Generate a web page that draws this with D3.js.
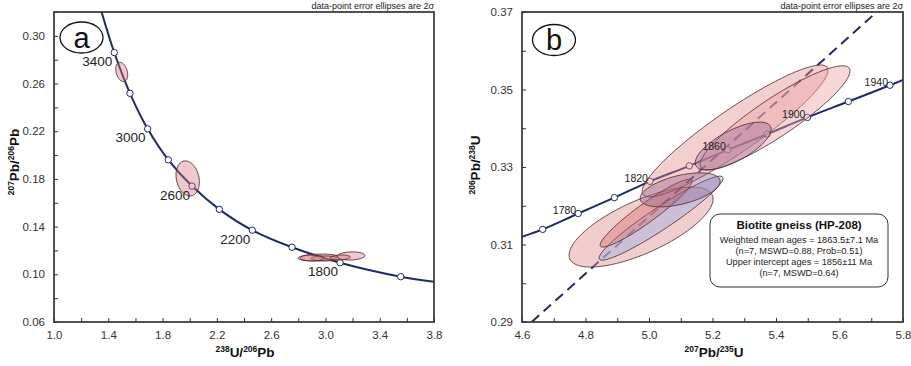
<!DOCTYPE html>
<html>
<head>
<meta charset="utf-8">
<script src="https://cdn.jsdelivr.net/npm/d3@7"></script>
<style>
body{margin:0;background:#fff}
text{font-family:"Liberation Sans",Arial,sans-serif}
</style>
</head>
<body>
<svg id="fig" width="911" height="366"></svg>
<script>
// ---- panel a : Tera-Wasserburg (238U/206Pb vs 207Pb/206Pb)
var twAges = [3400, 3200, 3000, 2800, 2600, 2400, 2200, 2000, 1800, 1600];
var twX = [1.444, 1.560, 1.690, 1.842, 2.017, 2.218, 2.461, 2.754, 3.108, 3.555];
var twY = [0.2860, 0.2518, 0.2220, 0.1960, 0.1740, 0.1545, 0.1370, 0.1227, 0.1097, 0.0980];
var twEnds = [[1.351, 0.3198], [3.80, 0.0938]];
var twLabels = [3400, 3000, 2600, 2200, 1800];
// error ellipses: centre, 2 sigma half widths, correlation
var twCx = [1.499, 1.985, 2.945, 3.188, 2.997, 3.107, 2.901];
var twCy = [0.2697, 0.1804, 0.1141, 0.1154, 0.1133, 0.1141, 0.1137];
var twSx = [0.044, 0.086, 0.147, 0.103, 0.103, 0.074, 0.088];
var twSy = [0.0081, 0.0147, 0.0029, 0.0034, 0.0021, 0.0021, 0.0025];
var twRho = [-0.3, -0.2, 0.2, 0.1, 0.0, 0.2, 0.0];
var twXTicks = [1.0, 1.4, 1.8, 2.2, 2.6, 3.0, 3.4, 3.8];
var twXMinor = [1.2, 1.6, 2.0, 2.4, 2.8, 3.2, 3.6];
var twYTicks = [0.06, 0.10, 0.14, 0.18, 0.22, 0.26, 0.30];
var twYMinor = [0.08, 0.12, 0.16, 0.20, 0.24, 0.28, 0.32];

// ---- panel b : Wetherill concordia (207Pb/235U vs 206Pb/238U)
var wcAges = [1760, 1780, 1800, 1820, 1840, 1860, 1880, 1900, 1920, 1940];
var wcX = [4.665, 4.777, 4.891, 5.003, 5.127, 5.248, 5.372, 5.499, 5.628, 5.759];
var wcY = [0.3139, 0.3180, 0.3221, 0.3263, 0.3303, 0.3344, 0.3385, 0.3428, 0.3469, 0.3511];
var wcEnds = [[4.60, 0.3120], [5.80, 0.3525]];
var wcLabels = [1780, 1820, 1860, 1900, 1940];
var discordia = [[4.6305, 0.29], [5.717, 0.37]];
var wcCx = [4.975, 5.271, 5.397, 5.038, 4.991, 5.265, 5.098];
var wcCy = [0.3145, 0.3393, 0.3427, 0.3168, 0.3181, 0.3354, 0.3241];
var wcSx = [0.2268, 0.2929, 0.2362, 0.1953, 0.1449, 0.1197, 0.1260];
var wcSy = [0.01032, 0.01703, 0.01342, 0.01084, 0.00877, 0.00619, 0.00439];
var wcRho = [0.70, 0.92, 0.90, 0.95, 0.94, 0.70, 0.50];
var wcFill = ["rgba(228,150,150,0.48)", "rgba(228,140,140,0.42)", "rgba(236,165,165,0.45)",
              "rgba(160,178,225,0.48)", "rgba(212,100,100,0.38)", "rgba(150,100,150,0.38)",
              "rgba(140,90,140,0.38)"];
var wcXTicks = [4.6, 4.8, 5.0, 5.2, 5.4, 5.6, 5.8];
var wcXMinor = [4.7, 4.9, 5.1, 5.3, 5.5, 5.7];
var wcYTicks = [0.29, 0.31, 0.33, 0.35, 0.37];
var wcYMinor = [0.30, 0.32, 0.34, 0.36];
var boxLines = ["Weighted mean ages = 1863.5\u00b17.1 Ma", "(n=7, MSWD=0.88, Prob=0.51)",
                "Upper intercept ages = 1856\u00b111 Ma", "(n=7, MSWD=0.64)"];

var navy = "#1f2a66";
var svg = d3.select("#fig");

function ellipsePts(cx, cy, sx, sy, rho) {
  var pts = [];
  var k = Math.sqrt(1 - rho * rho);
  for (var i = 0; i <= 72; i++) {
    var t = i / 72 * 2 * Math.PI;
    pts.push([cx + sx * Math.cos(t), cy + sy * (rho * Math.cos(t) + k * Math.sin(t))]);
  }
  return pts;
}

function frame(g, x, y, xt, xm, yt, ym, id) {
  g.append("defs").append("clipPath").attr("id", id)
    .append("rect").attr("x", x.range()[0]).attr("y", y.range()[1])
    .attr("width", x.range()[1] - x.range()[0]).attr("height", y.range()[0] - y.range()[1]);

  var bottom = y.range()[0], left = x.range()[0];
  g.append("g").attr("transform", "translate(0," + bottom + ")")
    .call(d3.axisBottom(x).tickValues(xt).tickFormat(d3.format(".1f")).tickSize(-4).tickPadding(9));
  g.append("g").attr("transform", "translate(0," + bottom + ")")
    .call(d3.axisBottom(x).tickValues(xm).tickFormat("").tickSize(-4));
  g.append("g").attr("transform", "translate(" + left + ",0)")
    .call(d3.axisLeft(y).tickValues(yt).tickFormat(d3.format(".2f")).tickSize(-4).tickPadding(9));
  g.append("g").attr("transform", "translate(" + left + ",0)")
    .call(d3.axisLeft(y).tickValues(ym).tickFormat("").tickSize(-4));
  g.selectAll(".domain").remove();
  g.selectAll(".tick line").attr("stroke", "#333").attr("stroke-width", 1);
  g.selectAll(".tick text").attr("font-size", 11.5).attr("fill", "#333")
    .attr("font-family", "Liberation Sans, Arial, sans-serif");
}

function addBox(g, x, y) {
  g.append("rect")
    .attr("x", x.range()[0]).attr("y", y.range()[1])
    .attr("width", x.range()[1] - x.range()[0]).attr("height", y.range()[0] - y.range()[1])
    .attr("fill", "none").attr("stroke", "#333").attr("stroke-width", 1.7);
}

function supTitle(g, parts, tx, ty, rot) {
  var t = g.append("text").attr("font-weight", "bold").attr("font-size", 13.5).attr("fill", "#111")
    .attr("text-anchor", "middle")
    .attr("transform", "translate(" + tx + "," + ty + ")" + (rot ? " rotate(-90)" : ""));
  parts.forEach(function(p) {
    if (p[1]) {
      t.append("tspan").attr("font-size", 8.5).attr("baseline-shift", "super").text(p[0]);
    } else {
      t.append("tspan").text(p[0]);
    }
  });
}

function corner(g, cx, cy, letter) {
  g.append("ellipse").attr("cx", cx).attr("cy", cy).attr("rx", 21.5).attr("ry", 15.5)
    .attr("fill", "#fff").attr("stroke", "#111").attr("stroke-width", 1.3);
  g.append("text").attr("x", cx).attr("y", cy + 10).attr("text-anchor", "middle")
    .attr("font-size", 29).attr("fill", "#111").text(letter);
}

function note(g, xr) {
  g.append("text").attr("x", xr).attr("y", 9).attr("text-anchor", "end")
    .attr("font-size", 9).attr("fill", "#222").text("data-point error ellipses are 2\u03c3");
}

// ================= panel a
var xa = d3.scaleLinear().domain([1.0, 3.8]).range([54, 434]);
var ya = d3.scaleLinear().domain([0.06, 0.32]).range([322, 12]);
var ga = svg.append("g");
frame(ga, xa, ya, twXTicks, twXMinor, twYTicks, twYMinor, "clipA");

var lineA = d3.line().x(function(d) { return xa(d[0]); }).y(function(d) { return ya(d[1]); })
  .curve(d3.curveCatmullRom);
var twPts = [twEnds[0]].concat(twX.map(function(v, i) { return [v, twY[i]]; }), [twEnds[1]]);
var plotA = ga.append("g").attr("clip-path", "url(#clipA)");
plotA.append("path").attr("d", lineA(twPts)).attr("fill", "none")
  .attr("stroke", navy).attr("stroke-width", 2);
plotA.selectAll(".mk").data(twAges).enter().append("circle")
  .attr("cx", function(d, i) { return xa(twX[i]); })
  .attr("cy", function(d, i) { return ya(twY[i]); })
  .attr("r", 3.2).attr("fill", "#fff").attr("stroke", navy).attr("stroke-width", 1);

var lineE = d3.line().x(function(d) { return xa(d[0]); }).y(function(d) { return ya(d[1]); });
plotA.selectAll(".ell").data(twCx).enter().append("path")
  .attr("d", function(d, i) { return lineE(ellipsePts(twCx[i], twCy[i], twSx[i], twSy[i], twRho[i])) + "Z"; })
  .attr("fill", "rgba(215,120,130,0.40)").attr("stroke", "#5a2a2a").attr("stroke-width", 0.9);

ga.selectAll(".lab").data(twLabels).enter().append("text")
  .attr("x", function(d) { var i = twAges.indexOf(d); return xa(twX[i]) - 2; })
  .attr("y", function(d) { var i = twAges.indexOf(d); return ya(twY[i]) + 13.5; })
  .attr("text-anchor", "end").attr("font-size", 13.5).attr("fill", "#222")
  .text(function(d) { return d; });

addBox(ga, xa, ya);
corner(ga, 81.5, 37.5, "a");
note(ga, 434);
supTitle(ga, [["238", 1], ["U/", 0], ["206", 1], ["Pb", 0]], 245, 357, false);
supTitle(ga, [["207", 1], ["Pb/", 0], ["206", 1], ["Pb", 0]], 19, 162, true);

// ================= panel b
var xb = d3.scaleLinear().domain([4.6, 5.8]).range([522, 903]);
var yb = d3.scaleLinear().domain([0.29, 0.37]).range([322, 12]);
var gb = svg.append("g");
frame(gb, xb, yb, wcXTicks, wcXMinor, wcYTicks, wcYMinor, "clipB");

var lineB = d3.line().x(function(d) { return xb(d[0]); }).y(function(d) { return yb(d[1]); });
var wcPts = [wcEnds[0]].concat(wcX.map(function(v, i) { return [v, wcY[i]]; }), [wcEnds[1]]);
var plotB = gb.append("g").attr("clip-path", "url(#clipB)");
plotB.append("path").attr("d", lineB.curve(d3.curveCatmullRom)(wcPts)).attr("fill", "none")
  .attr("stroke", navy).attr("stroke-width", 2);
lineB.curve(d3.curveLinear);
plotB.append("path").attr("d", lineB(discordia)).attr("fill", "none")
  .attr("stroke", navy).attr("stroke-width", 2).attr("stroke-dasharray", "10,6");
plotB.selectAll(".mk").data(wcAges).enter().append("circle")
  .attr("cx", function(d, i) { return xb(wcX[i]); })
  .attr("cy", function(d, i) { return yb(wcY[i]); })
  .attr("r", 3.2).attr("fill", "#fff").attr("stroke", navy).attr("stroke-width", 1);

gb.selectAll(".lab").data(wcLabels).enter().append("text")
  .attr("x", function(d) { var i = wcAges.indexOf(d); return xb(wcX[i]) - 2; })
  .attr("y", function(d) { var i = wcAges.indexOf(d); return yb(wcY[i]) + 0.5; })
  .attr("text-anchor", "end").attr("font-size", 10.5).attr("fill", "#222")
  .text(function(d) { return d; });

plotB.selectAll(".ell").data(wcCx).enter().append("path")
  .attr("d", function(d, i) { return lineB(ellipsePts(wcCx[i], wcCy[i], wcSx[i], wcSy[i], wcRho[i])) + "Z"; })
  .attr("fill", function(d, i) { return wcFill[i]; })
  .attr("stroke", "#4a2a2a").attr("stroke-width", 0.8);

// result box
gb.append("rect").attr("x", 710).attr("y", 214).attr("width", 178).attr("height", 73)
  .attr("rx", 10).attr("fill", "#fff").attr("stroke", "#333").attr("stroke-width", 1);
gb.append("text").attr("x", 799).attr("y", 228.5).attr("text-anchor", "middle")
  .attr("font-size", 11.5).attr("font-weight", "bold").attr("fill", "#111")
  .text("Biotite gneiss (HP-208)");
gb.selectAll(".bl").data(boxLines).enter().append("text")
  .attr("x", 799).attr("y", function(d, i) { return [242.7, 253.5, 265.3, 276.3][i]; })
  .attr("text-anchor", "middle").attr("font-size", 9.2).attr("fill", "#222")
  .text(function(d) { return d; });

addBox(gb, xb, yb);
corner(gb, 554, 40, "b");
note(gb, 903);
supTitle(gb, [["207", 1], ["Pb/", 0], ["235", 1], ["U", 0]], 714, 357, false);
supTitle(gb, [["206", 1], ["Pb/", 0], ["238", 1], ["U", 0]], 480, 165, true);
</script>
</body>
</html>
